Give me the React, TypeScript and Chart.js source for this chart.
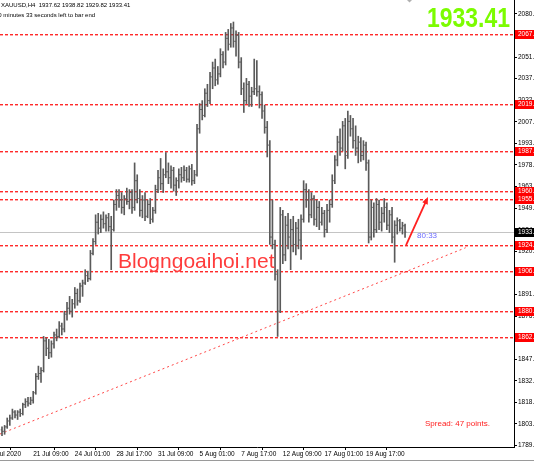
import React, { useEffect, useRef } from "react";
import { Chart, registerables } from "chart.js";

Chart.register(...registerables);

// ---- OHLC data (XAUUSD H4), bar index 0 = 17 Jul 09:00 ----
const opens = [
  1800, 1799, 1802, 1806, 1808, 1812, 1810, 1812, 1811, 1817, 1819, 1818, 1820, 1825, 1836, 1838, 1840, 1860, 1855, 1852,
  1858, 1864, 1863, 1870, 1868, 1878, 1882, 1880, 1885, 1892, 1887, 1897, 1899, 1904, 1902, 1919, 1927, 1940, 1936, 1942,
  1939, 1943, 1937, 1935, 1952, 1958, 1955, 1950, 1956, 1954, 1960, 1950, 1968, 1956, 1948, 1955, 1944, 1952, 1942, 1948,
  1962, 1970, 1966, 1972, 1974, 1970, 1975, 1965, 1968, 1972, 1970, 1975, 1969, 1976, 1968, 1972, 2003, 2016, 2012, 2027,
  2022, 2038, 2044, 2036, 2040, 2053, 2048, 2064, 2060, 2071, 2062, 2066, 2048, 2030, 2022, 2033, 2025, 2028, 2030, 2028,
  2026, 2015, 2004, 1992, 1930, 1925, 1905, 1880, 1945, 1918, 1938, 1930, 1935, 1925, 1936, 1928, 1942, 1962, 1955, 1945,
  1956, 1942, 1950, 1940, 1946, 1935, 1948, 1952, 1968, 1982, 1994, 1990, 2005, 1985, 2008, 2003, 1995, 1990, 1994, 1985,
  1992, 1980, 1930, 1950, 1935, 1952, 1940, 1946, 1950, 1938, 1945, 1930, 1938, 1941, 1936, 1937.62,
];
const highs = [
  1802, 1803, 1808, 1810, 1814, 1813, 1813, 1814, 1818, 1821, 1822, 1822, 1826, 1838, 1843, 1842, 1863, 1862, 1861, 1860,
  1866, 1868, 1873, 1872, 1880, 1886, 1890, 1888, 1896, 1895, 1899, 1901, 1908, 1907, 1921, 1929, 1945, 1946, 1945, 1947,
  1945, 1946, 1944, 1955, 1962, 1962, 1960, 1958, 1963, 1962, 1962, 1980, 1972, 1962, 1958, 1960, 1955, 1956, 1950, 1965,
  1975, 1983, 1976, 1987, 1980, 1978, 1977, 1970, 1976, 1977, 1978, 1977, 1978, 1979, 1975, 2006, 2020, 2022, 2030, 2033,
  2041, 2048, 2050, 2045, 2057, 2055, 2068, 2070, 2074, 2075, 2069, 2068, 2051, 2034, 2037, 2035, 2031, 2050, 2049, 2032,
  2028, 2019, 2008, 1995, 1955, 1928, 1908, 1950, 1948, 1944, 1946, 1942, 1944, 1940, 1942, 1945, 1968, 1966, 1962, 1960,
  1958, 1955, 1954, 1950, 1948, 1952, 1955, 1972, 1985, 1998, 2003, 2008, 2010, 2015, 2012, 2010, 2005, 1998, 1997, 1995,
  1994, 1982, 1955, 1953, 1956, 1955, 1950, 1956, 1953, 1948, 1950, 1941, 1943, 1942, 1940, 1938.82,
];
const lows = [
  1796, 1797, 1801, 1803, 1807, 1808, 1807, 1809, 1810, 1815, 1816, 1817, 1818, 1824, 1834, 1832, 1839, 1850, 1848, 1849,
  1855, 1860, 1862, 1864, 1866, 1874, 1878, 1876, 1882, 1884, 1886, 1890, 1898, 1900, 1901, 1918, 1925, 1932, 1933, 1936,
  1934, 1934, 1908, 1934, 1948, 1950, 1946, 1945, 1952, 1949, 1946, 1948, 1953, 1944, 1943, 1941, 1943, 1939, 1940, 1946,
  1960, 1962, 1960, 1970, 1966, 1963, 1961, 1958, 1963, 1967, 1968, 1967, 1967, 1965, 1966, 1971, 2000, 2009, 2011, 2018,
  2020, 2030, 2032, 2033, 2038, 2044, 2046, 2056, 2058, 2058, 2052, 2044, 2026, 2014, 2020, 2018, 2018, 2026, 2025, 2017,
  2010, 2000, 1984, 1925, 1922, 1901, 1863, 1879, 1912, 1914, 1922, 1908, 1920, 1918, 1922, 1915, 1940, 1950, 1940, 1943,
  1938, 1937, 1935, 1938, 1930, 1933, 1940, 1950, 1966, 1978, 1985, 1988, 1976, 1983, 1998, 1990, 1985, 1980, 1981, 1982,
  1975, 1926, 1928, 1930, 1933, 1935, 1934, 1940, 1935, 1933, 1926, 1913, 1932, 1934, 1932, 1929.82,
];
const closes = [
  1799, 1802, 1806, 1808, 1812, 1810, 1812, 1811, 1817, 1819, 1818, 1820, 1825, 1836, 1838, 1840, 1860, 1855, 1852, 1858,
  1864, 1863, 1870, 1868, 1878, 1882, 1880, 1885, 1892, 1887, 1897, 1899, 1904, 1902, 1919, 1927, 1940, 1936, 1942, 1939,
  1943, 1937, 1935, 1952, 1958, 1955, 1950, 1956, 1954, 1960, 1950, 1968, 1956, 1948, 1955, 1944, 1952, 1942, 1948, 1962,
  1970, 1966, 1972, 1974, 1970, 1975, 1965, 1968, 1972, 1970, 1975, 1969, 1976, 1968, 1972, 2003, 2016, 2012, 2027, 2022,
  2038, 2044, 2036, 2040, 2053, 2048, 2064, 2060, 2071, 2062, 2066, 2048, 2030, 2022, 2033, 2025, 2028, 2030, 2028, 2026,
  2015, 2004, 1992, 1930, 1925, 1905, 1880, 1945, 1918, 1938, 1930, 1935, 1925, 1936, 1928, 1942, 1962, 1955, 1945, 1956,
  1942, 1950, 1940, 1946, 1935, 1948, 1952, 1968, 1982, 1994, 1990, 2005, 1985, 2008, 2003, 1995, 1990, 1994, 1985, 1992,
  1980, 1930, 1950, 1935, 1952, 1940, 1946, 1950, 1938, 1945, 1930, 1938, 1941, 1936, 1937.62, 1933.41,
];

// ---- axes ----
const xTickIndex = [-5.6, 12, 28, 44, 60, 76, 92, 108, 124, 140];
const xTickLabels = [
  "17 Jul 2020", "21 Jul 09:00", "24 Jul 01:00", "28 Jul 17:00", "31 Jul 09:00",
  "5 Aug 01:00", "7 Aug 17:00", "12 Aug 09:00", "17 Aug 01:00", "19 Aug 17:00",
];
const yTickValues = [
  1789.45, 1804.0, 1818.55, 1833.1, 1847.65, 1862.2, 1876.75, 1891.3, 1905.85, 1920.4, 1934.95,
  1949.5, 1964.05, 1978.6, 1993.15, 2007.7, 2022.25, 2036.8, 2051.35, 2065.9, 2080.45,
];
const yTickLabels = [
  "1789.", "1803.", "1818.", "1832.", "1847.", "1862.", "1876.", "1891.", "1905.", "1920.", "1934.",
  "1949.", "1963.", "1978.", "1993.", "2007.", "2022.", "2037.", "2051.", "2065.", "2080.",
];
const X_MIN = -0.77;
const X_MAX = 196.9;
const Y_MIN = 1788.44;
const Y_MAX = 2089.84;

// ---- annotations ----
const levels = [2067.25, 2019.7, 1987.9, 1960.9, 1955.5, 1924.9, 1906.9, 1880.2, 1862.6];
const currentPrice = 1933.41;
const trendStart = [-0.77, 1797.2];
const trendEnd = [178.3, 1922.8];
const arrowStart = [155.4, 1924.6];
const arrowEnd = [163.8, 1957.0];
const countdownPos = [159.6, 1930.8];
const countdownText = "80:33";
const titleLine1 = "XAUUSD,H4  1937.62 1938.82 1929.82 1933.41";
const titleLine2 = "80 minutes 33 seconds left to bar end";
const bigPrice = "1933.41";
const watermark = "Blogngoaihoi.net";
const spreadText = "Spread: 47 points.";

const FONT = '"Liberation Sans", Arial, sans-serif';
const BAR_COLOR = "#5a5a5a";
const LEVEL_COLOR = "#ff2a2a";
const LEVEL_HALO = "rgba(255,60,60,0.45)";

const overlayPlugin = {
  id: "mt4overlay",
  beforeDatasetsDraw(chart: any) {
    const { ctx, chartArea: a, scales } = chart;
    const x = scales.x;
    const y = scales.y;
    ctx.save();
    ctx.beginPath();
    ctx.rect(a.left, a.top, a.right - a.left, a.bottom - a.top);
    ctx.clip();
    // current price line
    const cy = Math.round(y.getPixelForValue(currentPrice));
    ctx.fillStyle = "#c4c4c4";
    ctx.fillRect(a.left, cy, a.right - a.left, 1);
    // horizontal levels (dashed red, slightly soft like the scaled screenshot)
    levels.forEach((v) => {
      const py = Math.round(y.getPixelForValue(v));
      for (let px = a.left; px < a.right; px += 5) {
        ctx.fillStyle = LEVEL_COLOR;
        ctx.fillRect(px, py, 3, 1);
        ctx.fillStyle = LEVEL_HALO;
        ctx.fillRect(px, py + 1, 3, 1);
      }
    });
    // trend line
    ctx.strokeStyle = "rgba(255,60,60,0.95)";
    ctx.lineWidth = 1;
    ctx.setLineDash([2, 3]);
    ctx.beginPath();
    ctx.moveTo(x.getPixelForValue(trendStart[0]), y.getPixelForValue(trendStart[1]));
    ctx.lineTo(x.getPixelForValue(trendEnd[0]), y.getPixelForValue(trendEnd[1]));
    ctx.stroke();
    ctx.restore();
  },
  afterDatasetsDraw(chart: any) {
    const { ctx, chartArea: a, scales } = chart;
    const x = scales.x;
    const y = scales.y;
    ctx.save();
    ctx.beginPath();
    ctx.rect(a.left, a.top, a.right - a.left, a.bottom - a.top);
    ctx.clip();
    ctx.strokeStyle = BAR_COLOR;
    ctx.lineWidth = 1;
    ctx.beginPath();
    for (let i = 0; i < opens.length; i++) {
      const px = x.getPixelForValue(i);
      const po = y.getPixelForValue(opens[i]);
      const pc = y.getPixelForValue(closes[i]);
      ctx.moveTo(px - 1.3, po);
      ctx.lineTo(px, po);
      ctx.moveTo(px, pc);
      ctx.lineTo(px + 1.3, pc);
    }
    ctx.stroke();
    ctx.restore();
  },
  afterDraw(chart: any) {
    const { ctx, chartArea: a, scales } = chart;
    const x = scales.x;
    const y = scales.y;
    ctx.save();
    // arrow
    const ax0 = x.getPixelForValue(arrowStart[0]);
    const ay0 = y.getPixelForValue(arrowStart[1]);
    const ax1 = x.getPixelForValue(arrowEnd[0]);
    const ay1 = y.getPixelForValue(arrowEnd[1]);
    const ang = Math.atan2(ay1 - ay0, ax1 - ax0);
    ctx.strokeStyle = "#ff2020";
    ctx.fillStyle = "#ff2020";
    ctx.lineWidth = 1.8;
    ctx.beginPath();
    ctx.moveTo(ax0, ay0);
    ctx.lineTo(ax1 - 4 * Math.cos(ang), ay1 - 4 * Math.sin(ang));
    ctx.stroke();
    ctx.beginPath();
    ctx.moveTo(ax1, ay1);
    ctx.lineTo(ax1 - 7 * Math.cos(ang) + 3 * Math.sin(ang), ay1 - 7 * Math.sin(ang) - 3 * Math.cos(ang));
    ctx.lineTo(ax1 - 7 * Math.cos(ang) - 3 * Math.sin(ang), ay1 - 7 * Math.sin(ang) + 3 * Math.cos(ang));
    ctx.closePath();
    ctx.fill();

    // countdown
    ctx.fillStyle = "#6a6aff";
    ctx.font = `8px ${FONT}`;
    ctx.textBaseline = "middle";
    ctx.textAlign = "left";
    ctx.fillText(countdownText, x.getPixelForValue(countdownPos[0]), y.getPixelForValue(countdownPos[1]));

    // watermark
    ctx.fillStyle = "#ff3c3c";
    ctx.font = `21px ${FONT}`;
    ctx.textBaseline = "alphabetic";
    ctx.fillText(watermark, a.left + 118, a.top + 268);

    // spread
    ctx.fillStyle = "#ff2020";
    ctx.font = `8px ${FONT}`;
    ctx.fillText(spreadText, a.left + 425, a.top + 426);

    // title lines
    ctx.fillStyle = "#000";
    ctx.font = `6px ${FONT}`;
    ctx.textBaseline = "middle";
    ctx.fillText(titleLine1, a.left + 1, a.top + 5);
    ctx.fillText(titleLine2, a.left - 5, a.top + 15);

    // big price
    ctx.save();
    ctx.translate(a.left + 510, a.top + 27);
    ctx.scale(0.82, 1);
    ctx.fillStyle = "#7cfc00";
    ctx.font = `bold 28px ${FONT}`;
    ctx.textAlign = "right";
    ctx.textBaseline = "alphabetic";
    ctx.fillText(bigPrice, 0, 0);
    ctx.restore();

    // chart-shift marker
    ctx.fillStyle = "#b0b0b0";
    ctx.beginPath();
    ctx.moveTo(a.left + 407, 0);
    ctx.lineTo(a.left + 412, 0);
    ctx.lineTo(a.left + 409.5, 2.5);
    ctx.closePath();
    ctx.fill();

    // price boxes on right axis
    ctx.font = `6.5px ${FONT}`;
    ctx.textBaseline = "middle";
    ctx.textAlign = "left";
    levels.forEach((v) => {
      const py = Math.round(y.getPixelForValue(v));
      ctx.fillStyle = "#ff0000";
      ctx.fillRect(a.right + 1, py - 4, 24, 9);
      ctx.fillStyle = "#ffffff";
      ctx.fillText(Math.floor(v) + ".", a.right + 4, py + 0.5);
    });
    const cp = Math.round(y.getPixelForValue(currentPrice));
    ctx.fillStyle = "#000000";
    ctx.fillRect(a.right + 1, cp - 4, 24, 9);
    ctx.fillStyle = "#ffffff";
    ctx.fillText(Math.floor(currentPrice) + ".", a.right + 4, cp + 0.5);

    // window bottom edge
    ctx.fillStyle = "#9a9a9a";
    ctx.fillRect(0, chart.height - 2, chart.width, 1);
    ctx.restore();
  },
};

export default function App() {
  const ref = useRef<HTMLCanvasElement>(null);
  useEffect(() => {
    document.body.style.margin = "0";
    const canvas = ref.current!;
    const chart = new Chart(canvas, {
      type: "bar",
      data: {
        datasets: [
          {
            data: opens.map((_, i) => ({ x: i, y: [lows[i], highs[i]] })) as any,
            backgroundColor: BAR_COLOR,
            borderWidth: 0,
            barThickness: 1,
          },
        ],
      },
      options: {
        animation: false,
        responsive: false,
        maintainAspectRatio: false,
        devicePixelRatio: 1,
        layout: { padding: 0 },
        plugins: {
          legend: { display: false },
          tooltip: { enabled: false },
          title: { display: false },
        },
        scales: {
          x: {
            type: "linear",
            min: X_MIN,
            max: X_MAX,
            offset: false,
            grid: { display: true, drawOnChartArea: false, drawTicks: true, tickLength: 3, color: "#000" },
            border: { display: true, color: "#000", width: 1 },
            ticks: {
              autoSkip: false,
              maxRotation: 0,
              minRotation: 0,
              align: "start",
              padding: 0,
              color: "#000",
              font: { family: FONT, size: 6.5 },
              callback: (_v: any, idx: number) => xTickLabels[idx],
            },
            afterBuildTicks: (s: any) => {
              s.ticks = xTickIndex.map((v) => ({ value: v }));
            },
            afterFit: (s: any) => {
              s.height = 15;
              s.paddingLeft = 0;
              s.paddingRight = 0;
            },
          } as any,
          y: {
            type: "linear",
            position: "right",
            min: Y_MIN,
            max: Y_MAX,
            grid: { display: true, drawOnChartArea: false, drawTicks: true, tickLength: 3, color: "#000" },
            border: { display: true, color: "#000", width: 1 },
            ticks: {
              padding: 1,
              color: "#000",
              font: { family: FONT, size: 6.5 },
              callback: (_v: any, idx: number) => yTickLabels[idx],
            },
            afterBuildTicks: (s: any) => {
              s.ticks = yTickValues.map((v) => ({ value: v }));
            },
            afterFit: (s: any) => {
              s.width = 20;
              s.paddingTop = 0;
              s.paddingBottom = 0;
            },
          } as any,
        },
      },
      plugins: [overlayPlugin],
    });
    return () => chart.destroy();
  }, []);
  return (
    <div style={{ width: 534, height: 462, background: "#fff" }}>
      <canvas ref={ref} width={534} height={462} style={{ display: "block" }} />
    </div>
  );
}
